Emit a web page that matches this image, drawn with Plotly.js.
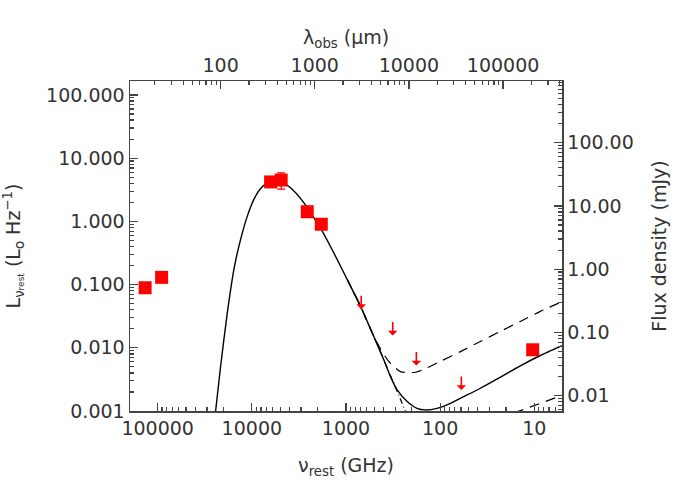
<!DOCTYPE html>
<html>
<head>
<meta charset="utf-8">
<script src="https://cdn.plot.ly/plotly-3.0.1.min.js"></script>
<style>
  body { margin: 0; background: #fff; }
  #sed { width: 692px; height: 494px; }
</style>
</head>
<body>
<div id="sed"></div>
<script>
// detections (rest frequency in GHz, L_nu in Lsun/Hz)
const detNu = [136000, 90800, 6320, 4880, 2580, 1830, 10.4];
const detL = [0.089, 0.13, 4.2, 4.5, 1.42, 0.90, 0.0093];
const detErrUp = [0, 0, 0, 1.35, 0, 0, 0];
const detErrDown = [0, 0, 0, 1.26, 0, 0, 0];

// upper limits (arrow starts at the limit)
const limNu = [690, 319, 179, 59.6];
const limL = [0.0668, 0.0256, 0.00855, 0.0035];

// total model (solid)
const modelNu = [24660, 21480, 18230, 15520, 13160, 11170, 9510, 8070, 6860, 5600, 4570, 3580,
  2805, 2198, 1790, 1349, 971, 702, 507, 397, 337, 286, 224, 176, 143.5, 108, 77.8, 61.0,
  37.4, 22.9, 14.1, 8.63, 5.05];
const modelL = [0.0008, 0.00505, 0.0356, 0.173, 0.518, 1.21, 2.23, 3.30, 4.01, 4.31, 4.01, 3.03,
  1.98, 1.15, 0.70, 0.318, 0.120, 0.0453, 0.0151, 0.00646, 0.00350, 0.00215, 0.00141, 0.00110,
  0.00104, 0.00110, 0.00132, 0.00159, 0.00229, 0.00343, 0.00518, 0.00755, 0.01077];

// alternative model with brighter radio (dashed)
const altNu = [971, 702, 527, 430, 352, 264, 183, 138, 99.4, 61.0, 37.4, 22.9, 14.1, 8.63, 5.05];
const altL = [0.120, 0.046, 0.0171, 0.0096, 0.0061, 0.0042, 0.0041, 0.0048, 0.0061, 0.0087,
  0.0126, 0.0182, 0.0261, 0.0377, 0.0537];

// dust only (dash-dot)
const dustNu = [971, 702, 467, 337, 234, 220];
const dustL = [0.120, 0.045, 0.0115, 0.0036, 0.00101, 0.0008];

// faint radio component (dashed, bottom right)
const radioNu = [16.5, 5.05];
const radioL = [0.00093, 0.00177];

// tick labels
const nuTicks = [100000, 10000, 1000, 100, 10];
const lamTicks = [100, 1000, 10000, 100000];
const lumTicks = [100, 10, 1, 0.1, 0.01, 0.001];
const lumText = ["100.000", "10.000", "1.000", "0.100", "0.010", "0.001"];
const fluxTicks = [100, 10, 1, 0.1, 0.01];
const fluxText = ["100.00", "10.00", "1.00", "0.10", "0.01"];

const font = { family: "DejaVu Sans, sans-serif", size: 19, color: "#333" };
const axisCol = "#444";

function minorVals(lo, hi) {
  const v = [];
  for (let d = lo; d <= hi; d++) {
    for (let k = 2; k <= 9; k++) v.push(k * Math.pow(10, d));
  }
  return v;
}

function logAxis(extra) {
  return Object.assign({
    type: "log",
    showline: true,
    linecolor: axisCol,
    linewidth: 1.5,
    ticks: "inside",
    ticklen: 8,
    tickwidth: 1.2,
    tickcolor: axisCol,
    showgrid: false,
    zeroline: false,
    tickfont: font,
    tickmode: "array"
  }, extra);
}

const traces = [
  {
    x: modelNu, y: modelL, type: "scatter", mode: "lines",
    line: { color: "#000", width: 1.4, shape: "spline", smoothing: 0.6 }, hoverinfo: "skip"
  },
  {
    x: altNu, y: altL, type: "scatter", mode: "lines",
    line: { color: "#000", width: 1.2, dash: "10px,7px", shape: "spline", smoothing: 0.6 }, hoverinfo: "skip"
  },
  {
    x: dustNu, y: dustL, type: "scatter", mode: "lines",
    line: { color: "#000", width: 1.2, dash: "6px,3px,1px,3px" }, hoverinfo: "skip"
  },
  {
    x: radioNu, y: radioL, type: "scatter", mode: "lines",
    line: { color: "#000", width: 1.2, dash: "10px,7px" }, hoverinfo: "skip"
  },
  {
    x: detNu, y: detL, type: "scatter", mode: "markers",
    marker: { symbol: "square", size: 13, color: "#ff0000" },
    error_y: {
      type: "data", symmetric: false, array: detErrUp, arrayminus: detErrDown,
      color: "#ff0000", thickness: 1.2, width: 4
    }
  },
  // empty trace so the top and right axes are drawn
  {
    x: lamTicks, y: fluxTicks.slice(0, lamTicks.length), xaxis: "x2", yaxis: "y2",
    type: "scatter", mode: "markers", marker: { opacity: 0 }, hoverinfo: "skip"
  }
];

const arrows = limNu.map((nu, i) => ({
  x: Math.log10(nu), y: Math.log10(limL[i]), xref: "x", yref: "y",
  text: "", showarrow: true, ax: 0, ay: 15, arrowside: "start",
  arrowhead: 2, arrowsize: 1.2, arrowwidth: 1.6, arrowcolor: "#ff0000",
  standoff: 0, startstandoff: 0
}));

// top axis title placed by hand so it sits close to its tick labels
arrows.push({
  text: "λ<sub>obs</sub> (μm)", xref: "paper", yref: "paper",
  x: 0.5, y: 1.128, xanchor: "center", yanchor: "middle",
  showarrow: false, font: font
});

const layout = {
  width: 692,
  height: 494,
  margin: { l: 130, r: 130, t: 81, b: 83 },
  paper_bgcolor: "#fff",
  plot_bgcolor: "#fff",
  showlegend: false,
  font: font,
  xaxis: logAxis({
    range: [5.294, 0.706],
    tickvals: nuTicks,
    ticktext: nuTicks.map(String),
    minor: { tickmode: "array", tickvals: minorVals(0, 5), ticks: "inside", ticklen: 4, tickcolor: axisCol },
    title: { text: "ν<sub>rest</sub> (GHz)", font: font, standoff: 20 }
  }),
  xaxis2: logAxis({
    overlaying: "x",
    anchor: "y",
    side: "top",
    range: [1.038, 5.626],
    tickvals: lamTicks,
    ticktext: lamTicks.map(String),
    minor: { tickmode: "array", tickvals: minorVals(1, 5), ticks: "inside", ticklen: 4, tickcolor: axisCol }
  }),
  yaxis: logAxis({
    range: [-3.0, 2.22],
    tickvals: lumTicks,
    ticktext: lumText,
    minor: { tickmode: "array", tickvals: minorVals(-3, 2), ticks: "inside", ticklen: 4, tickcolor: axisCol },
    title: {
      text: "L<sub>ν<span style=\"font-size:9px\">rest</span></sub> (L<sub>o</sub> Hz<sup>−1</sup>)",
      font: font, standoff: 26
    }
  }),
  yaxis2: logAxis({
    overlaying: "y",
    anchor: "x",
    side: "right",
    range: [-2.244, 2.976],
    tickvals: fluxTicks,
    ticktext: fluxText,
    minor: { tickmode: "array", tickvals: minorVals(-3, 2), ticks: "inside", ticklen: 4, tickcolor: axisCol },
    title: { text: "Flux density (mJy)", font: font, standoff: 20 }
  }),
  annotations: arrows
};

Plotly.newPlot("sed", traces, layout, { displayModeBar: false, staticPlot: true });
</script>
</body>
</html>
